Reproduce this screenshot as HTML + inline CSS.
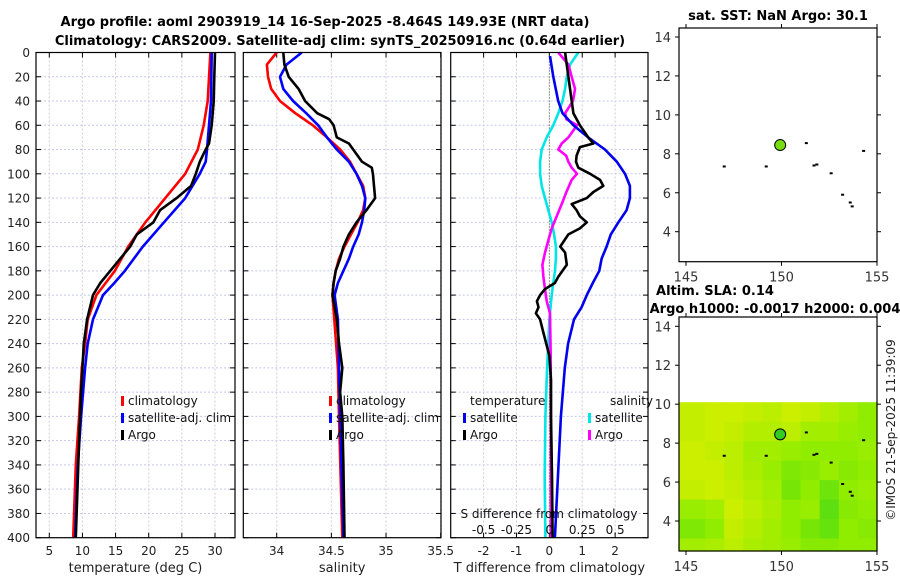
<!DOCTYPE html>
<html><head><meta charset="utf-8">
<style>
html,body{margin:0;padding:0;background:#fff;}
svg{display:block;font-family:"DejaVu Sans","Liberation Sans",sans-serif;}
</style></head>
<body>
<svg id="fig" width="900" height="580" viewBox="0 0 900 580" xmlns="http://www.w3.org/2000/svg">
<text x="325" y="26" text-anchor="middle" font-size="13" font-weight="bold">Argo profile: aoml 2903919_14 16-Sep-2025 -8.464S 149.93E (NRT data)</text>
<text x="340" y="45" text-anchor="middle" font-size="13" font-weight="bold">Climatology: CARS2009. Satellite-adj clim: synTS_20250916.nc (0.64d earlier)</text>
<text x="778" y="20" text-anchor="middle" font-size="13" font-weight="bold">sat. SST: NaN Argo: 30.1</text>
<text x="715" y="295" text-anchor="middle" font-size="13" font-weight="bold">Altim. SLA: 0.14</text>
<text x="775" y="313" text-anchor="middle" font-size="13" font-weight="bold">Argo h1000: -0.0017 h2000: 0.004</text>
<text transform="translate(895,430) rotate(-90)" text-anchor="middle" font-size="12" fill="#222">©IMOS 21-Sep-2025 11:39:09</text>
<g id="layer"></g>
</svg>
<script>
// ---------- data ----------
const depthTicks = [0,20,40,60,80,100,120,140,160,180,200,220,240,260,280,300,320,340,360,380,400];
const tempTicks = [5,10,15,20,25,30];
const salTicks = [34,34.5,35,35.5];
const salTickLabels = ["34","34.5","35","35.5"];
const tdiffTicks = [-2,-1,0,1,2];
const sdiffTicks = [-0.5,-0.25,0,0.25,0.5];
const sdiffTickLabels = ["-0.5","-0.25","0","0.25","0.5"];

const tClimDepth = [0,40,60,80,100,120,140,160,180,200,220,240,260,300,340,400];
const tClim = [29.3,28.9,28.3,27.4,25.5,22.5,19.5,16.9,14.9,12.1,10.8,10.4,9.9,9.5,9.0,8.6];
const tSatDepth = [0,40,60,80,90,100,120,140,160,180,190,200,220,240,260,300,340,400];
const tSat = [29.5,29.4,29.1,28.8,28.6,27.7,25.5,22.3,19.1,16.4,14.8,13.1,11.6,10.8,10.4,9.8,9.3,8.9];
const tArgoDepth = [0,20,40,60,75,80,90,100,110,120,130,140,150,160,170,180,190,200,220,240,280,320,400];
const tArgo = [30.0,29.9,29.8,29.5,29.1,28.6,27.7,27.1,26.4,24.2,21.7,20.7,18.2,17.2,15.7,14.2,12.7,11.6,10.7,10.2,9.8,9.5,9.0];

const sClimDepth = [0,10,20,30,40,50,60,70,80,90,100,110,120,130,140,150,160,170,180,190,200,260,300,400];
const sClim = [34.0,33.91,33.92,33.95,34.03,34.17,34.33,34.46,34.58,34.67,34.73,34.79,34.81,34.79,34.74,34.68,34.62,34.57,34.54,34.52,34.51,34.56,34.57,34.6];
const sSatDepth = [0,10,20,30,40,50,60,70,80,90,100,110,120,130,140,150,160,170,180,190,200,220,300,400];
const sSat = [34.23,34.09,34.03,34.06,34.15,34.27,34.38,34.46,34.55,34.66,34.73,34.78,34.81,34.8,34.78,34.75,34.7,34.66,34.61,34.56,34.53,34.56,34.58,34.61];
const sArgoDepth = [0,10,20,30,40,50,55,60,70,75,80,90,95,100,110,120,130,140,150,160,170,180,190,200,220,240,260,280,300,340,400];
const sArgo = [34.06,34.07,34.11,34.2,34.26,34.37,34.48,34.52,34.55,34.66,34.7,34.78,34.87,34.88,34.89,34.9,34.82,34.73,34.66,34.61,34.58,34.54,34.52,34.51,34.55,34.57,34.6,34.58,34.6,34.61,34.62];

const dtSatDepth = [3,20,40,50,60,70,80,90,100,110,120,130,140,150,160,170,180,190,200,210,220,240,260,300,350,400];
const dtSat = [0.02,0.12,0.27,0.4,0.73,1.18,1.69,2.05,2.3,2.45,2.45,2.35,2.1,1.87,1.74,1.59,1.52,1.32,1.14,0.98,0.75,0.57,0.47,0.35,0.26,0.17];
const dtArgoDepth = [0,20,40,50,60,70,75,78,85,90,95,100,105,110,115,120,125,130,135,140,145,150,160,165,175,185,190,195,200,205,210,215,220,230,250,270,300,350,400];
const dtArgo = [0.48,0.58,0.68,0.73,0.93,1.18,1.34,0.93,0.83,0.81,0.88,1.24,1.54,1.64,1.34,1.14,0.68,0.83,0.93,1.14,0.93,0.58,0.33,0.48,0.53,0.27,0.17,-0.13,-0.28,-0.38,-0.33,-0.41,-0.28,-0.19,0,0.05,0.05,0.08,0.1];
const dsSatDepth = [0,10,20,30,40,50,60,70,80,90,100,110,120,130,140,150,160,170,180,190,200,220,260,300,350,400];
const dsSat = [0.22,0.157,0.132,0.12,0.1,0.068,0.03,-0.02,-0.058,-0.07,-0.07,-0.058,-0.033,-0.008,0.018,0.036,0.05,0.05,0.043,0.03,0.018,0,-0.017,-0.03,-0.035,-0.03];
const dsArgoDepth = [0,10,20,30,40,50,55,60,70,75,80,85,90,95,100,105,115,125,135,145,155,165,175,185,195,205,215,250,300,400];
const dsArgo = [0.068,0.145,0.17,0.195,0.18,0.12,0.13,0.21,0.145,0.094,0.068,0.127,0.145,0.17,0.21,0.17,0.13,0.094,0.056,0.018,-0.008,-0.033,-0.053,-0.045,-0.033,-0.02,0.005,0.01,0.012,0.012];

const latTicks = [4,6,8,10,12,14];
const lonTicks = [145,150,155];
const argoLon = [149.93];
const argoLat = [8.45];
const speckLon = [147.0,149.2,151.3,151.7,151.85,152.6,153.2,153.6,153.7,154.3];
const speckLat = [7.35,7.35,8.55,7.4,7.45,7.0,5.9,5.5,5.3,8.15];
const slaLons = [145,146,147,148,149,150,151,152,153,154];
const slaLats = [9.6,8.6,7.6,6.6,5.6,4.6,3.6,2.6];
const slaRow0 = [0.8,0.85,0.85,0.8,0.75,0.85,0.8,0.7,0.6,0.5];
const slaRow1 = [0.8,0.85,0.8,0.7,0.7,0.75,0.6,0.6,0.55,0.5];
const slaRow2 = [0.85,0.8,0.75,0.6,0.6,0.55,0.5,0.5,0.5,0.55];
const slaRow3 = [0.85,0.85,0.75,0.65,0.55,0.4,0.45,0.55,0.45,0.5];
const slaRow4 = [0.8,0.85,0.8,0.7,0.6,0.35,0.5,0.3,0.5,0.55];
const slaRow5 = [0.55,0.6,0.85,0.75,0.65,0.5,0.55,0.2,0.45,0.5];
const slaRow6 = [0.4,0.5,0.8,0.7,0.6,0.5,0.35,0.25,0.5,0.45];
const slaRow7 = [0.6,0.65,0.75,0.65,0.6,0.55,0.45,0.45,0.5,0.5];
const slaRows = [slaRow0,slaRow1,slaRow2,slaRow3,slaRow4,slaRow5,slaRow6,slaRow7];

// ---------- helpers ----------
const NS = "http://www.w3.org/2000/svg";
const layer = document.getElementById("layer");
function mk(tag, attrs, parent){const e=document.createElementNS(NS,tag);for(const k in attrs)e.setAttribute(k,attrs[k]);(parent||layer).appendChild(e);return e;}
const TOP=52.5, BOT=537.7;
const yD = d => TOP + (BOT-TOP)*d/400;
function lin(d0,d1,r0,r1){return v=>r0+(v-d0)*(r1-r0)/(d1-d0);}

const panels = [
 {name:"temperature-panel", x0:36, x1:235, sx:lin(5,30,49.3,215), ticks:tempTicks, labels:tempTicks.map(String), xlabel:"temperature (deg C)"},
 {name:"salinity-panel", x0:243.3, x1:441, sx:lin(34,35.5,276.7,440.7), ticks:salTicks, labels:salTickLabels, xlabel:"salinity"},
 {name:"difference-panel", x0:450.7, x1:648, sx:lin(-3,3,450.7,648), ticks:tdiffTicks, labels:tdiffTicks.map(String), xlabel:"T difference from climatology"}
];

panels.forEach((p,pi)=>{
  const g = mk("g",{});
  
  
  depthTicks.forEach(d=>{
    const l=mk("line",{x1:p.x0,x2:p.x1,y1:yD(d),y2:yD(d),stroke:"#c4c8ec","stroke-width":1,"stroke-dasharray":"2,2"},g);
    
    
  });
  p.ticks.forEach(t=>{
    const x=p.sx(t);
    const l=mk("line",{x1:x,x2:x,y1:TOP,y2:BOT,stroke:"#d8c8d8","stroke-width":1,"stroke-dasharray":"2,2"},g);
    
    
    const tx=mk("text",{x:x,y:555,"text-anchor":"middle","font-size":12,fill:"#222"},g);
    tx.textContent=p.labels[p.ticks.indexOf(t)];
    
    
    mk("line",{x1:x,x2:x,y1:BOT,y2:BOT-5,stroke:"#000"},g);
    mk("line",{x1:x,x2:x,y1:TOP,y2:TOP+5,stroke:"#000"},g);
  });
  depthTicks.forEach(d=>{
    mk("line",{x1:p.x0,x2:p.x0+5,y1:yD(d),y2:yD(d),stroke:"#000"},g);
    mk("line",{x1:p.x1,x2:p.x1-5,y1:yD(d),y2:yD(d),stroke:"#000"},g);
    if(pi===0){
      const tx=mk("text",{x:30,y:yD(d)+4.5,"text-anchor":"end","font-size":12,fill:"#222"},g);
      tx.textContent=String(d);
      
      
    }
  });
  const xl=mk("text",{x:(p.x0+p.x1)/2,y:572,"text-anchor":"middle","font-size":13,fill:"#222"},g);
  xl.textContent=p.xlabel;
  
  
  p.g=g;
});

function series(panel, xs, ds, color, name, sx){
  const f = sx || panel.sx;
  const pts = xs.map((v,i)=>f(v).toFixed(1)+","+yD(ds[i]).toFixed(1)).join(" ");
  const pl = mk("polyline",{points:pts,fill:"none",stroke:color,"stroke-width":2.6,"stroke-linejoin":"round"},panel.g);
  
  
}
const P1=panels[0],P2=panels[1],P3=panels[2];
{const z=mk("line",{x1:P3.sx(0),x2:P3.sx(0),y1:TOP,y2:BOT,stroke:"#335533","stroke-width":1,"stroke-dasharray":"1,2"},P3.g);

}
series(P1,tClim,tClimDepth,"#ff0000","temp-climatology-line");
series(P1,tSat,tSatDepth,"#0000ff","temp-satellite-line");
series(P1,tArgo,tArgoDepth,"#000000","temp-argo-line");
series(P2,sClim,sClimDepth,"#ff0000","sal-climatology-line");
series(P2,sSat,sSatDepth,"#0000ff","sal-satellite-line");
series(P2,sArgo,sArgoDepth,"#000000","sal-argo-line");
const sxS = lin(-0.75,0.75,450.7,648);
series(P3,dsSat,dsSatDepth,"#00e5e5","sdiff-satellite-line",sxS);
series(P3,dsArgo,dsArgoDepth,"#ff00ff","sdiff-argo-line",sxS);
series(P3,dtSat,dtSatDepth,"#0000ee","tdiff-satellite-line");
series(P3,dtArgo,dtArgoDepth,"#000000","tdiff-argo-line");

{const t=mk("text",{x:549,y:518,"text-anchor":"middle","font-size":12,fill:"#111"},P3.g);
t.textContent="S difference from climatology";

}
sdiffTicks.forEach((s,i)=>{
  const t=mk("text",{x:sxS(s),y:534,"text-anchor":"middle","font-size":12,fill:"#111"},P3.g);
  t.textContent=sdiffTickLabels[i];
  
  
});

panels.forEach(p=>{
  const r=mk("rect",{x:p.x0,y:TOP,width:p.x1-p.x0,height:BOT-TOP,fill:"none",stroke:"#000","stroke-width":1.2},p.g);
  
  
});

function legend(g,x,y,color,label){
  const lg=mk("g",{},g);
  
  
  mk("rect",{x:x,y:y-9,width:3,height:10,fill:color},lg);
  const t=mk("text",{x:x+7,y:y,"font-size":12,fill:"#111"},lg);
  t.textContent=label;
}
legend(P1.g,121,405,"#ff0000","climatology");
legend(P1.g,121,422,"#0000ff","satellite-adj. clim");
legend(P1.g,121,439,"#000000","Argo");
legend(P2.g,329,405,"#ff0000","climatology");
legend(P2.g,329,422,"#0000ff","satellite-adj. clim");
legend(P2.g,329,439,"#000000","Argo");
{const t=mk("text",{x:470,y:405,"font-size":12,fill:"#111"},P3.g);t.textContent="temperature";


const t2=mk("text",{x:610,y:405,"font-size":12,fill:"#111"},P3.g);t2.textContent="salinity";

}
legend(P3.g,463,422,"#0000ee","satellite");
legend(P3.g,463,439,"#000000","Argo");
legend(P3.g,588,422,"#00e5e5","satellite");
legend(P3.g,588,439,"#ff00ff","Argo");

// ---------- maps ----------
function map(name, top, bot, withSla){
  const g=mk("g",{});
  
  
  const L=679, R=877;
  const sx=lin(145,155,686,877);
  const lat4y = bot-30, lat14y = lat4y-194.7;
  const sy=lin(4,14,lat4y,lat14y);
  if(withSla){
    slaRows.forEach((row,ri)=>{
      row.forEach((v,ci)=>{
        const lon0=slaLons[ci], lat0=slaLats[ri];
        const x0=ci===0?L:sx(lon0), x1=Math.min(R,sx(lon0+1));
        const yTop=Math.max(sy(10.1),sy(lat0+0.5)), yB=Math.min(bot,sy(lat0-0.5));
        let r,gg,b;
        if(v<0.5){const t=v/0.5;r=60+85*t;gg=215+22*t;b=25-25*t;}
        else{const t=(v-0.5)/0.5;r=145+85*t;gg=237+3*t;b=0;}
        const c=mk("rect",{x:x0.toFixed(1),y:yTop.toFixed(1),width:(x1-x0+0.6).toFixed(1),height:(yB-yTop+0.6).toFixed(1),fill:`rgb(${r|0},${gg|0},${b|0})`},g);
        
        
      });
    });
  }
  speckLon.forEach((lo,i)=>{
    const s=mk("rect",{x:sx(lo)-1.5,y:sy(speckLat[i])-1,width:3,height:2,fill:"#000"},g);
    
    
  });
  argoLon.forEach((lo,i)=>{
    const c=mk("circle",{cx:sx(lo),cy:sy(argoLat[i]),r:5.5,fill:withSla?"#33cc22":"#77dd11",stroke:"#000","stroke-width":1},g);
    
    
  });
  const fr=mk("rect",{x:L,y:top,width:R-L,height:bot-top,fill:"none",stroke:"#000","stroke-width":1.2},g);
  
  
  latTicks.forEach(la=>{
    const y=sy(la);
    mk("line",{x1:L-4,x2:L,y1:y,y2:y,stroke:"#000"},g);
    mk("line",{x1:R,x2:R+4,y1:y,y2:y,stroke:"#000"},g);
    const t=mk("text",{x:L-8,y:y+5,"text-anchor":"end","font-size":13,fill:"#333"},g);
    t.textContent=String(la);
    
    
  });
  lonTicks.forEach(lo=>{
    const x=sx(lo);
    mk("line",{x1:x,x2:x,y1:bot,y2:bot+4,stroke:"#000"},g);
    mk("line",{x1:x,x2:x,y1:top-4,y2:top,stroke:"#000"},g);
    const t=mk("text",{x:x,y:bot+20,"text-anchor":"middle","font-size":13,fill:"#333"},g);
    t.textContent=String(lo);
    
    
  });
}
map("sst-map",28,261.7,false);
map("sla-map",317,551,true);
</script>
</body></html>
